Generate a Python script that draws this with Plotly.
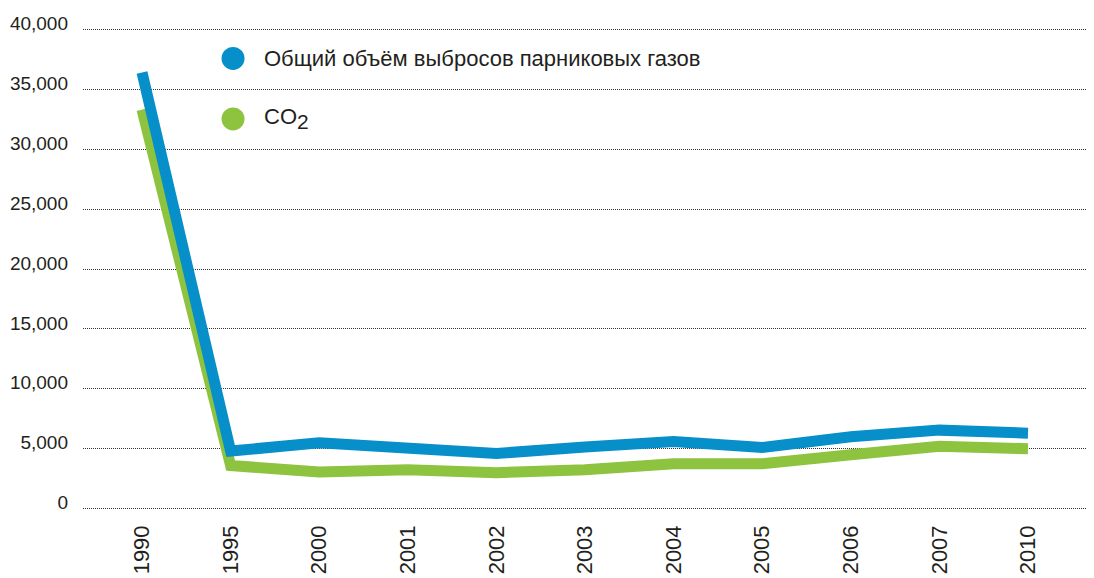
import plotly.graph_objects as go

years = ["1990", "1995", "2000", "2001", "2002", "2003", "2004", "2005", "2006", "2007", "2010"]
total_ghg = [36400, 4800, 5500, 5150, 4600, 5150, 5600, 5100, 6000, 6550, 6300]
co2 = [33300, 3600, 3050, 3250, 3000, 3250, 3750, 3750, 4500, 5200, 5000]
y_ticks = [0, 5000, 10000, 15000, 20000, 25000, 30000, 35000, 40000]
y_tick_labels = ["0", "5,000", "10,000", "15,000", "20,000", "25,000", "30,000", "35,000", "40,000"]
legend_labels = ["Общий объём выбросов парниковых газов",
                 "CO<sub><span style='font-size:21px'>2</span></sub>"]

BLUE = "#078fca"
GREEN = "#8dc33f"
FONT = "Liberation Sans, Arial, Helvetica, sans-serif"
TEXT = "#231f20"

xi = list(range(len(years)))

fig = go.Figure()
fig.add_trace(go.Scatter(x=xi, y=co2, mode="lines", line=dict(color=GREEN, width=11),
                         name="CO2", showlegend=False))
fig.add_trace(go.Scatter(x=xi, y=total_ghg, mode="lines", line=dict(color=BLUE, width=11),
                         name=legend_labels[0], showlegend=False))

# legend drawn as circles + text
for color, label, ypos in [(BLUE, legend_labels[0], 0.935), (GREEN, legend_labels[1], 0.81)]:
    fig.add_shape(type="circle", xref="paper", yref="paper", xsizemode="pixel", ysizemode="pixel",
                  xanchor=0.1484, yanchor=ypos, x0=-11.5, x1=11.5, y0=-11.5, y1=11.5,
                  fillcolor=color, line=dict(width=0))
    fig.add_annotation(xref="paper", yref="paper", x=0.177, y=ypos, xanchor="left", yanchor="middle",
                       text=label, showarrow=False, font=dict(family=FONT, size=22, color=TEXT))

# the page body has an 8px margin, so the figure is sized/offset to compensate
fig.update_layout(
    width=1086, height=570,
    margin=dict(l=75, r=0, t=19, b=67, autoexpand=False),
    paper_bgcolor="white", plot_bgcolor="white",
    showlegend=False,
    font=dict(family=FONT, color=TEXT),
)
fig.update_xaxes(
    range=[-0.666, 10.745], tickmode="array", tickvals=xi, ticktext=years,
    tickangle=-90, tickfont=dict(size=22, color=TEXT, family=FONT),
    showgrid=False, zeroline=False, showline=False, ticks="", ticklabelstandoff=9,
    automargin=False,
)
fig.update_yaxes(
    range=[-200, 40200], tickmode="array", tickvals=y_ticks, ticktext=y_tick_labels,
    tickfont=dict(size=19, color=TEXT, family=FONT),
    showgrid=True, gridcolor="#333333", gridwidth=1, griddash="1px,1px",
    zeroline=False, showline=False, ticks="", ticklabelstandoff=14, ticklabelshift=-6,
    automargin=False,
)

fig.write_html("out.html")
